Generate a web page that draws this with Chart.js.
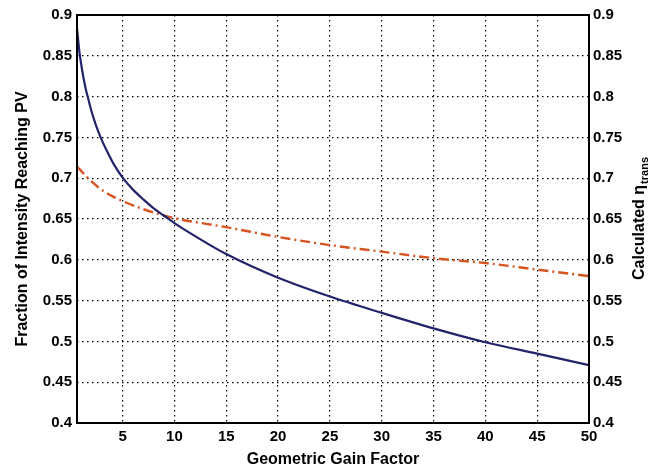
<!DOCTYPE html>
<html>
<head>
<meta charset="utf-8">
<script src="https://cdn.jsdelivr.net/npm/chart.js@4/dist/chart.umd.min.js"></script>
<style>
  html, body { margin: 0; padding: 0; background: #fff; }
  #wrap { width: 655px; height: 472px; }
</style>
</head>
<body>
<div id="wrap"><canvas id="c" width="655" height="472"></canvas></div>
<script>
// values
const gainPV = [0.6, 0.85, 1.0, 1.2, 1.45, 1.69, 2.0, 2.4, 2.88, 3.5, 4.2, 5.04, 6, 7, 8, 9, 10, 12, 15, 20, 25, 30, 35, 40, 45, 50];
const fracPV = [0.884, 0.853, 0.840, 0.825, 0.809, 0.797, 0.782, 0.766, 0.750, 0.733, 0.716, 0.700, 0.686, 0.674, 0.663, 0.654, 0.645, 0.629, 0.607, 0.578, 0.555, 0.535, 0.516, 0.499, 0.485, 0.471];
const gainEta = [0.6, 1, 1.5, 2, 2.85, 4, 5, 7, 8.8, 10, 15, 20, 25, 30, 35, 40, 45, 50];
const etaTrans = [0.714, 0.709, 0.702, 0.696, 0.687, 0.678, 0.672, 0.662, 0.655, 0.651, 0.640, 0.628, 0.618, 0.610, 0.602, 0.596, 0.588, 0.580];
const xTicks = [5, 10, 15, 20, 25, 30, 35, 40, 45, 50];
const yTicks = [0.4, 0.45, 0.5, 0.55, 0.6, 0.65, 0.7, 0.75, 0.8, 0.85, 0.9];

const FONT = "'Liberation Sans', Arial, Helvetica, sans-serif";
const tickFont = { family: FONT, size: 15, weight: "bold" };
const titleFont = { family: FONT, size: 16, weight: "bold" };

const toPts = (xs, ys) => xs.map((x, i) => ({ x, y: ys[i] }));
const setTicks = vals => axis => { axis.ticks = vals.map(v => ({ value: v })); };

// frame around the plot + right axis title with subscript
const frame = {
  id: "frame",
  afterDraw(chart) {
    const { ctx, chartArea: a } = chart;
    ctx.save();
    ctx.strokeStyle = "#000";
    ctx.lineWidth = 2;
    ctx.strokeRect(a.left, a.top, a.right - a.left, a.bottom - a.top);

    ctx.translate(640, (a.top + a.bottom) / 2);
    ctx.rotate(-Math.PI / 2);
    ctx.fillStyle = "#000";
    ctx.textBaseline = "middle";
    const main = "Calculated \u03b7";
    const sub = "trans";
    ctx.font = `bold 16px ${FONT}`;
    const w1 = ctx.measureText(main).width;
    ctx.font = `bold 11px ${FONT}`;
    const w2 = ctx.measureText(sub).width;
    const x0 = -(w1 + w2) / 2;
    ctx.font = `bold 16px ${FONT}`;
    ctx.fillText(main, x0, 0);
    ctx.font = `bold 11px ${FONT}`;
    ctx.fillText(sub, x0 + w1 + 1, 5);
    ctx.restore();
  },
};

new Chart(document.getElementById("c"), {
  type: "line",
  data: {
    datasets: [
      {
        label: "Fraction of Intensity Reaching PV",
        data: toPts(gainPV, fracPV),
        borderColor: "#22236a",
        borderWidth: 2.2,
        pointRadius: 0,
        cubicInterpolationMode: "monotone",
        yAxisID: "y",
      },
      {
        label: "Calculated eta_trans",
        data: toPts(gainEta, etaTrans),
        borderColor: "#d6541f",
        borderWidth: 2.4,
        borderDash: [10, 4, 2, 4],
        pointRadius: 0,
        cubicInterpolationMode: "monotone",
        yAxisID: "y2",
      },
    ],
  },
  options: {
    responsive: false,
    animation: false,
    layout: { padding: { top: 15, left: 0, right: 0, bottom: 0 } },
    plugins: { legend: { display: false }, tooltip: { enabled: false } },
    scales: {
      x: {
        type: "linear",
        min: 0.6,
        max: 50,
        afterBuildTicks: setTicks(xTicks),
        afterFit: s => { s.height = 49; },
        grid: { color: "#000", lineWidth: 1.2, drawTicks: false },
        border: { display: false, dash: [1.5, 3.5] },
        ticks: { color: "#000", font: tickFont, padding: 5, maxRotation: 0 },
        title: { display: true, text: "Geometric Gain Factor", color: "#000", font: titleFont, padding: { top: 0, bottom: 3 } },
      },
      y: {
        position: "left",
        min: 0.4,
        max: 0.9,
        afterBuildTicks: setTicks(yTicks),
        afterFit: s => { s.width = 77; },
        grid: { color: "#000", lineWidth: 1.2, drawTicks: false },
        border: { display: false, dash: [1.5, 3.5] },
        ticks: { color: "#000", font: tickFont, padding: 5, callback: v => String(+v.toFixed(2)) },
        title: { display: true, text: "Fraction of Intensity Reaching PV", color: "#000", font: titleFont, padding: { top: 13, bottom: 0 } },
      },
      y2: {
        position: "right",
        min: 0.4,
        max: 0.9,
        afterBuildTicks: setTicks(yTicks),
        afterFit: s => { s.width = 66; },
        grid: { display: false, drawTicks: false },
        border: { display: false },
        ticks: { color: "#000", font: tickFont, padding: 4, callback: v => String(+v.toFixed(2)) },
      },
    },
  },
  plugins: [frame],
});
</script>
</body>
</html>
